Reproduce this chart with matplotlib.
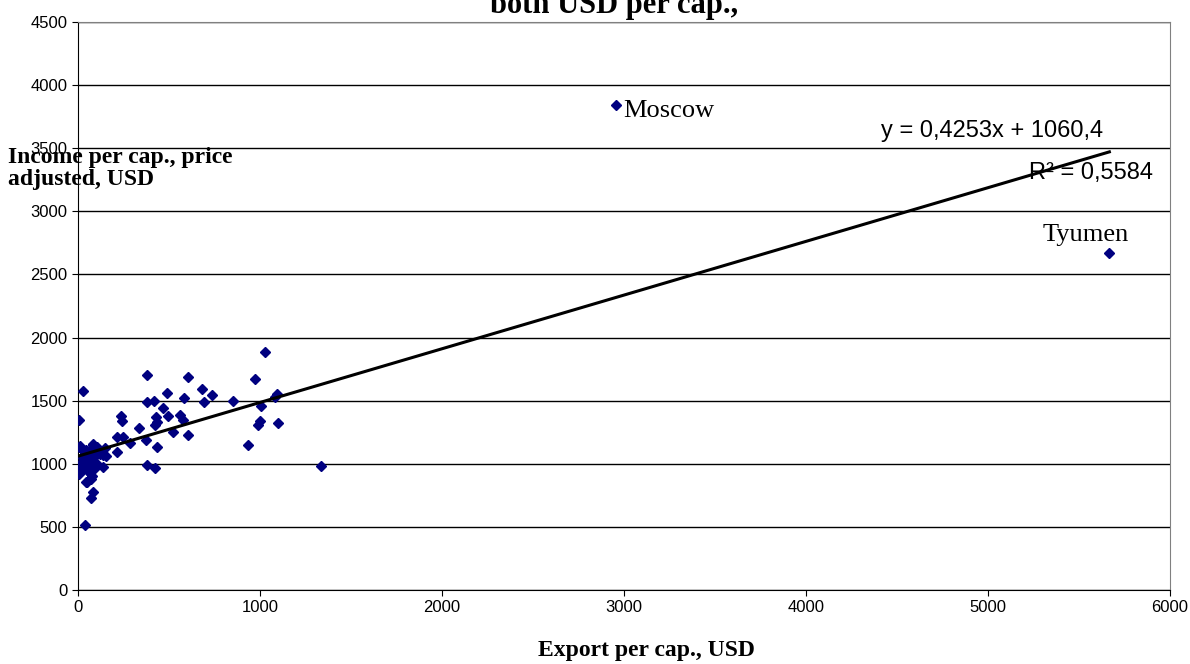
import numpy as np
from matplotlib import pyplot as plt

# export per cap. (USD) and price adjusted income per cap. (USD)
export_usd = [377, 606, 29, 487, 680, 738, 584, 418, 381, 694,
              852, 973, 1027, 1005, 1092, 1082, 1000, 987, 1099, 932,
              1333, 4, 234, 242, 465, 429, 423, 435, 493, 559,
              579, 337, 524, 603, 374, 216, 249, 286, 432, 212,
              377, 421, 139, 154, 81, 11, 84, 71, 38, 4,
              44, 75, 38, 84, 112, 148, 139, 66, 29, 75,
              48, 48, 2956, 5668,
              20, 55, 100, 90, 60, 30, 15, 120, 50, 95,
              65, 5, 25, 10, 105, 80, 45, 130, 70]
income_usd = [1703, 1690, 1579, 1563, 1592, 1542, 1521, 1500, 1487, 1489,
              1495, 1669, 1888, 1458, 1553, 1532, 1341, 1307, 1326, 1146,
              985, 1347, 1381, 1341, 1439, 1368, 1307, 1330, 1379, 1384,
              1347, 1283, 1254, 1228, 1191, 1215, 1210, 1162, 1130, 1096,
              990, 969, 972, 1062, 1157, 1141, 779, 726, 515, 919,
              858, 903, 1083, 1149, 1109, 1122, 1070, 1056, 1004, 990,
              951, 858, 3843, 2667,
              1120, 1040, 1010, 960, 1100, 960, 980, 1080, 1000, 1060,
              930, 1130, 1050, 1000, 1130, 1020, 1110, 1100, 880]

labels = {'Moscow': (2956, 3843), 'Tyumen': (5668, 2667)}

# linear trend as reported on the chart
slope = 0.4253
intercept = 1060.4
r_squared = 0.5584

serif = 'Liberation Serif'
sans = 'Liberation Sans'

fig = plt.figure(figsize=(11.9, 6.64), dpi=100)
ax = fig.add_axes([0.0655, 0.1114, 0.9175, 0.8555])

ax.plot(export_usd, income_usd, linestyle='none', marker='D',
        markersize=5, color='#000080', zorder=3)

x_fit = np.array([0, max(export_usd)])
ax.plot(x_fit, slope * x_fit + intercept, color='black', linewidth=2.2, zorder=4)

for name, (xv, yv) in labels.items():
    if name == 'Moscow':
        ax.text(xv + 40, yv - 45, name, family=serif, fontsize=19,
                ha='left', va='center')
    else:
        ax.text(xv - 130, yv + 60, name, family=serif, fontsize=19,
                ha='center', va='bottom')

ax.text(5022, 3637, f'y = {slope:.4f}x + {intercept:.1f}'.replace('.', ','),
        family=sans, fontsize=17, ha='center', va='center')
ax.text(5566, 3304, f'R\u00b2 = {r_squared:.4f}'.replace('.', ','),
        family=sans, fontsize=17, ha='center', va='center')

ax.set_xlim(0, 6000)
ax.set_ylim(0, 4500)
ax.set_xticks(np.arange(0, 6001, 1000))
ax.set_yticks(np.arange(0, 4501, 500))
ax.tick_params(direction='out', length=4, labelsize=12, color='black')
for lab in ax.get_xticklabels() + ax.get_yticklabels():
    lab.set_family(sans)

ax.yaxis.grid(True, color='#000000', linewidth=1)
ax.set_axisbelow(True)
ax.spines['top'].set_color('#808080')
ax.spines['right'].set_color('#808080')
ax.spines['left'].set_color('black')
ax.spines['bottom'].set_color('black')

ax.set_xlabel('Export per cap., USD', family=serif, fontweight='bold',
              fontsize=17)
ax.xaxis.set_label_coords(0.521, -0.088)
fig.text(0.007, 0.779, 'Income per cap., price\nadjusted, USD', family=serif,
         fontweight='bold', fontsize=17, ha='left', va='top', linespacing=1.08)
fig.text(0.516, 0.980, 'both USD per cap.,', family=serif, fontweight='bold',
         fontsize=22, ha='center', va='baseline')

fig.savefig('out.png', dpi=100)
